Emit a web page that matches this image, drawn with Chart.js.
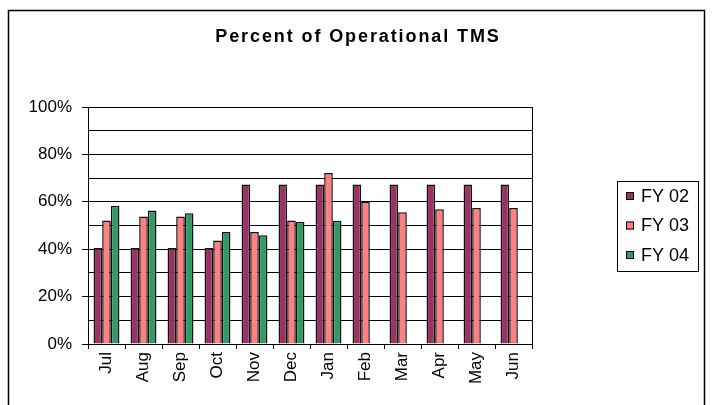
<!DOCTYPE html>
<html>
<head>
<meta charset="utf-8">
<title>Percent of Operational TMS</title>
<script src="https://cdn.jsdelivr.net/npm/chart.js@4.4.1/dist/chart.umd.min.js"></script>
<style>
    html, body { margin: 0; padding: 0; background: #fff; }
    #wrap { width: 713px; height: 405px; }
</style>
</head>
<body>
<div id="wrap"><canvas id="tmsChart" width="713" height="405"></canvas></div>
<script>
// data
const months = ['Jul', 'Aug', 'Sep', 'Oct', 'Nov', 'Dec', 'Jan', 'Feb', 'Mar', 'Apr', 'May', 'Jun'];
const fy02 = [40.5, 40.5, 40.5, 40.5, 67.3, 67.3, 67.3, 67.3, 67.3, 67.3, 67.3, 67.3];
const fy03 = [52.1, 53.8, 53.8, 43.7, 47.3, 52.1, 72.1, 60.0, 55.6, 56.9, 57.4, 57.4];
const fy04 = [58.2, 56.3, 55.2, 47.3, 45.9, 51.5, 52.0, null, null, null, null, null];
const seriesNames = ['FY 02', 'FY 03', 'FY 04'];
const seriesColors = ['#993366', '#FF8080', '#339966'];
const chartTitle = 'Percent of Operational TMS';

const FONT = "'Liberation Sans', Arial, sans-serif";

// outer frame, title, right edge of plot, legend box
const decorPlugin = {
    id: 'decor',
    afterDraw(chart) {
        const ctx = chart.ctx;
        const area = chart.chartArea;
        ctx.save();

        // frame round the whole chart
        ctx.strokeStyle = '#000';
        ctx.lineWidth = 1.5;
        ctx.strokeRect(8.5, 10.5, 696, 420);

        // right side of plot area
        ctx.lineWidth = 1;
        ctx.beginPath();
        ctx.moveTo(Math.round(area.right) + 0.5, area.top);
        ctx.lineTo(Math.round(area.right) + 0.5, area.bottom);
        ctx.stroke();

        // title
        ctx.fillStyle = '#000';
        ctx.font = 'bold 18px ' + FONT;
        ctx.letterSpacing = '1.9px';
        ctx.textAlign = 'center';
        ctx.textBaseline = 'middle';
        ctx.fillText(chartTitle, 358, 37);
        ctx.letterSpacing = '0px';

        // legend
        ctx.strokeStyle = '#000';
        ctx.lineWidth = 1;
        ctx.strokeRect(617.5, 181.5, 81, 90);
        ctx.font = '18px ' + FONT;
        ctx.textAlign = 'left';
        chart.data.datasets.forEach(function(ds, i) {
            const y = 196 + i * 29.5;
            ctx.fillStyle = ds.backgroundColor;
            ctx.fillRect(626, y - 4, 8, 8);
            ctx.strokeRect(626.5, y - 3.5, 7, 7);
            ctx.fillStyle = '#000';
            ctx.fillText(ds.label, 641, y + 1);
        });
        ctx.restore();
    }
};

const datasets = [fy02, fy03, fy04].map(function(values, i) {
    return {
        label: seriesNames[i],
        data: values,
        backgroundColor: seriesColors[i],
        borderColor: '#111',
        borderWidth: 1.5,
        barPercentage: 1.0,
        categoryPercentage: 0.7
    };
});

new Chart(document.getElementById('tmsChart').getContext('2d'), {
    type: 'bar',
    data: { labels: months, datasets: datasets },
    options: {
        responsive: false,
        animation: false,
        events: [],
        layout: { padding: { top: 107, right: 181, left: 0, bottom: 0 } },
        plugins: {
            legend: { display: false },
            title: { display: false },
            tooltip: { enabled: false }
        },
        scales: {
            x: {
                grid: {
                    offset: true,
                    drawOnChartArea: false,
                    color: '#000',
                    tickLength: 5
                },
                border: { color: '#000', width: 1 },
                ticks: {
                    color: '#000',
                    font: { family: FONT, size: 17 },
                    minRotation: 90,
                    maxRotation: 90,
                    padding: 3,
                    autoSkip: false
                },
                afterFit: function(scale) { scale.height = 61; }
            },
            y: {
                min: 0,
                max: 100,
                grid: {
                    color: '#000',
                    tickLength: 6,
                    tickColor: function(c) {
                        return c.tick && c.tick.value % 20 === 0 ? '#000' : 'rgba(0,0,0,0)';
                    }
                },
                border: { color: '#000', width: 1 },
                ticks: {
                    stepSize: 10,
                    color: '#000',
                    font: { family: FONT, size: 17 },
                    padding: 10,
                    autoSkip: false,
                    callback: function(v) { return v % 20 === 0 ? v + '%' : ''; }
                },
                afterFit: function(scale) { scale.width = 88; }
            }
        }
    },
    plugins: [decorPlugin]
});
</script>
</body>
</html>
